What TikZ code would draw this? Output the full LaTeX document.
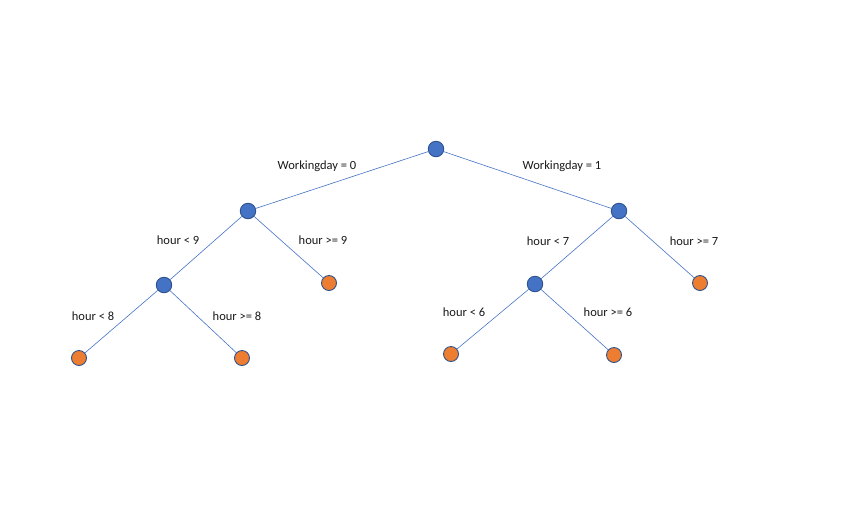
\documentclass[tikz,border=0pt]{standalone}
\usepackage{fontspec}
\setmainfont{Carlito}
\definecolor{nodeblue}{HTML}{4472C4}
\definecolor{edgeblue}{HTML}{2F528F}
\definecolor{leaforange}{HTML}{ED7D31}
\begin{document}
\begin{tikzpicture}[x=1pt,y=-1pt,
  inner/.style={circle,draw=edgeblue,fill=nodeblue,line width=0.9pt,minimum size=15.5pt,inner sep=0pt},
  leaf/.style={circle,draw=edgeblue,fill=leaforange,line width=0.9pt,minimum size=15pt,inner sep=0pt},
  edge/.style={draw=nodeblue,line width=0.6pt},
  lbl/.style={font=\fontsize{12.5}{14}\selectfont,text=black!90,inner sep=0pt}]
\useasboundingbox (0,0) rectangle (842,507);
\node[inner] (root) at (436,149) {};
\node[inner] (L) at (248,211) {};
\node[inner] (R) at (619,211) {};
\node[inner] (LL) at (164,285) {};
\node[leaf] (LR) at (329,283) {};
\node[inner] (RL) at (535,284) {};
\node[leaf] (RR) at (700,283) {};
\node[leaf] (LLL) at (79,358) {};
\node[leaf] (LLR) at (242,358) {};
\node[leaf] (RLL) at (451,354) {};
\node[leaf] (RLR) at (614,355) {};
\path[edge] (root) -- (L) (root) -- (R)
  (L) -- (LL) (L) -- (LR) (R) -- (RL) (R) -- (RR)
  (LL) -- (LLL) (LL) -- (LLR) (RL) -- (RLL) (RL) -- (RLR);
\node[lbl] (t1) at (317,166) {Workingday = 0};
\node[lbl] (t2) at (562,166) {Workingday = 1};
\node[lbl] (t3) at (178,240) {hour < 9};
\node[lbl] (t4) at (323,240) {hour >= 9};
\node[lbl] (t5) at (548,241) {hour < 7};
\node[lbl] (t6) at (694,241) {hour >= 7};
\node[lbl] (t7) at (93,316) {hour < 8};
\node[lbl] (t8) at (237,316) {hour >= 8};
\node[lbl] (t9) at (464,312) {hour < 6};
\node[lbl] (t10) at (608,312) {hour >= 6};
\end{tikzpicture}
\end{document}
